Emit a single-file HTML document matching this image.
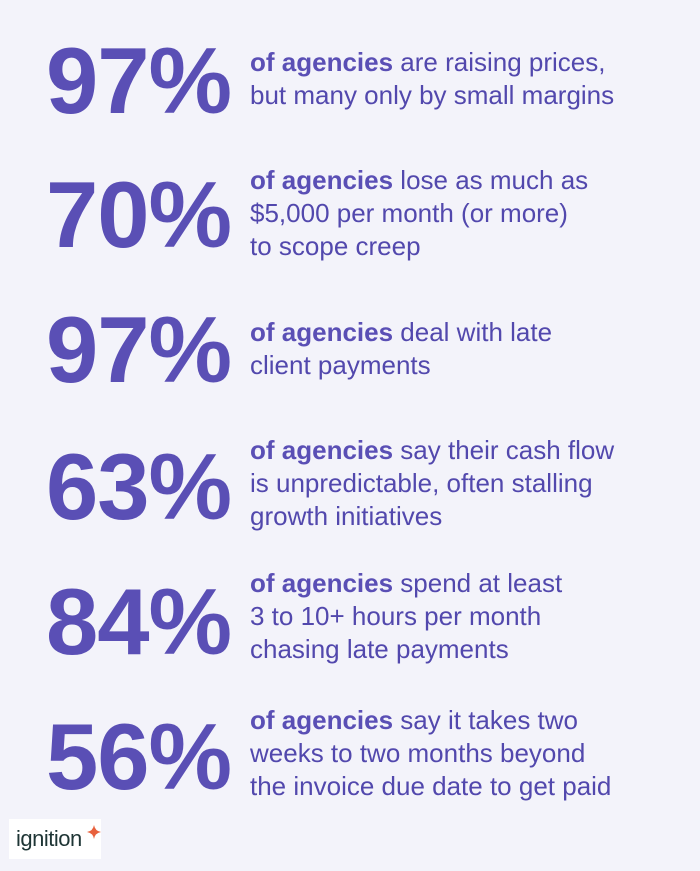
<!DOCTYPE html>
<html><head><style>
body{margin:0;width:700px;height:871px;background:#f3f3fa;position:relative;overflow:hidden;font-family:"Liberation Sans",sans-serif;color:#5a4fb5}
.n{position:absolute;left:46px;font-size:94px;line-height:94px;font-weight:bold;letter-spacing:-1px}
.t{position:absolute;left:250px;font-size:26px;line-height:33px;color:#5248ad}
.t b{color:#5a4fb5}
.logo{position:absolute;left:9px;top:819px;width:92px;height:40px;background:#fff}
.logo span{position:absolute;left:7px;top:7px;font-size:22px;color:#1e3535;letter-spacing:-0.5px}
</style></head><body>
<div class="n" style="top:34px">97%</div>
<div class="t" style="top:46px"><b>of agencies</b> are raising prices,<br>but many only by small margins</div>
<div class="n" style="top:168px">70%</div>
<div class="t" style="top:164px"><b>of agencies</b> lose as much as<br>$5,000 per month (or more)<br>to scope creep</div>
<div class="n" style="top:303px">97%</div>
<div class="t" style="top:316px"><b>of agencies</b> deal with late<br>client payments</div>
<div class="n" style="top:440px">63%</div>
<div class="t" style="top:434px"><b>of agencies</b> say their cash flow<br>is unpredictable, often stalling<br>growth initiatives</div>
<div class="n" style="top:575px">84%</div>
<div class="t" style="top:567px"><b>of agencies</b> spend at least<br>3 to 10+ hours per month<br>chasing late payments</div>
<div class="n" style="top:710px">56%</div>
<div class="t" style="top:704px"><b>of agencies</b> say it takes two<br>weeks to two months beyond<br>the invoice due date to get paid</div>
<div class="logo"><span>ignition</span>
<svg style="position:absolute;left:78px;top:6px" width="14" height="14" viewBox="0 0 14 14"><path d="M7 0 Q8 6 14 7 Q8 8 7 14 Q6 8 0 7 Q6 6 7 0Z" fill="#e8603c"/></svg></div>
</body></html>
